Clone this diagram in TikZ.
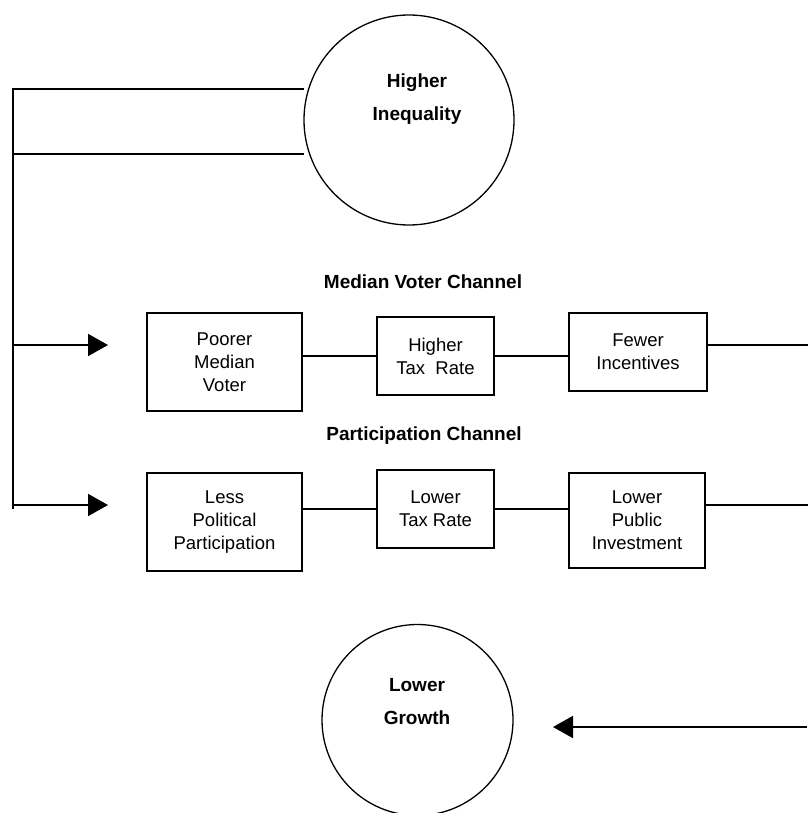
\documentclass[tikz,border=0pt]{standalone}
\usepackage{fontspec}
\setmainfont{Liberation Sans}
\usetikzlibrary{arrows.meta}
\begin{document}
\begin{tikzpicture}[x=1pt,y=-1pt,
  conn/.style={line width=1.9pt, line cap=rect},
  boxnode/.style={draw, line width=1.9pt, rectangle, inner sep=0pt, align=center, font=\fontsize{18.5}{23}\selectfont},
  circnode/.style={draw, circle, line width=1.3pt, inner sep=0pt},
  circtext/.style={align=center, inner sep=0pt, font=\bfseries\fontsize{19}{33}\selectfont},
  chanlabel/.style={anchor=base, inner sep=0pt, font=\bfseries\fontsize{19}{23}\selectfont},
  arr/.style={line width=1.9pt, -{Triangle[length=20pt,width=22pt]}}
]
\useasboundingbox (0,0) rectangle (807,813);

% circles
\node[circnode, minimum size=210pt] (hi) at (409,120) {};
\node[circtext] (hiT) at (417,99) {Higher\\Inequality};
\node[circnode, minimum size=191pt] (lg) at (417.5,720) {};
\node[circtext] (lgT) at (417,702) {Lower\\Growth};

% channel labels
\node[chanlabel] (mvc) at (423,288) {Median Voter Channel};
\node[chanlabel] (pc) at (424,440) {Participation Channel};

% boxes
\node[boxnode, minimum width=155pt, minimum height=98pt] (pmv) at (224.5,362) {Poorer\\Median\\Voter};
\node[boxnode, minimum width=117pt, minimum height=78pt] (htr) at (435.5,356) {Higher\\Tax~~Rate};
\node[boxnode, minimum width=138pt, minimum height=78pt] (fi) at (638,352) {Fewer\\Incentives};
\node[boxnode, minimum width=155pt, minimum height=98pt] (lpp) at (224.5,522) {Less\\Political\\Participation};
\node[boxnode, minimum width=117pt, minimum height=78pt] (ltr) at (435.5,509) {Lower\\Tax Rate};
\node[boxnode, minimum width=136pt, minimum height=95pt] (lpi) at (637,520.5) {Lower\\Public\\Investment};

% coordinates for free ends and junctions
\coordinate (v1) at (13,89);
\coordinate (v2) at (13,154);
\coordinate (vend) at (13,508);
\coordinate (h1) at (303,89);
\coordinate (h2) at (303,154);
\coordinate (a1) at (13,345);
\coordinate (t1) at (108,345);
\coordinate (a2) at (13,505);
\coordinate (t2) at (108,505);
\coordinate (r1) at (807,345);
\coordinate (r2) at (807,505);
\coordinate (g0) at (807,727);
\coordinate (gt) at (553,727);

% left feedback structure
\draw[conn] (h1) -- (v1) -- (vend);
\draw[conn] (h2) -- (v2);
\draw[arr] (a1) -- (t1);
\draw[arr] (a2) -- (t2);

% chains
\draw[conn] (pmv.east |- htr.west) -- (htr.west);
\draw[conn] (htr.east) -- (fi.west |- htr.east);
\draw[conn] (fi.east |- r1) -- (r1);
\draw[conn] (lpp.east |- ltr.west) -- (ltr.west);
\draw[conn] (ltr.east) -- (lpi.west |- ltr.east);
\draw[conn] (lpi.east |- r2) -- (r2);

% return arrow
\draw[arr] (g0) -- (gt);
\end{tikzpicture}
\end{document}
